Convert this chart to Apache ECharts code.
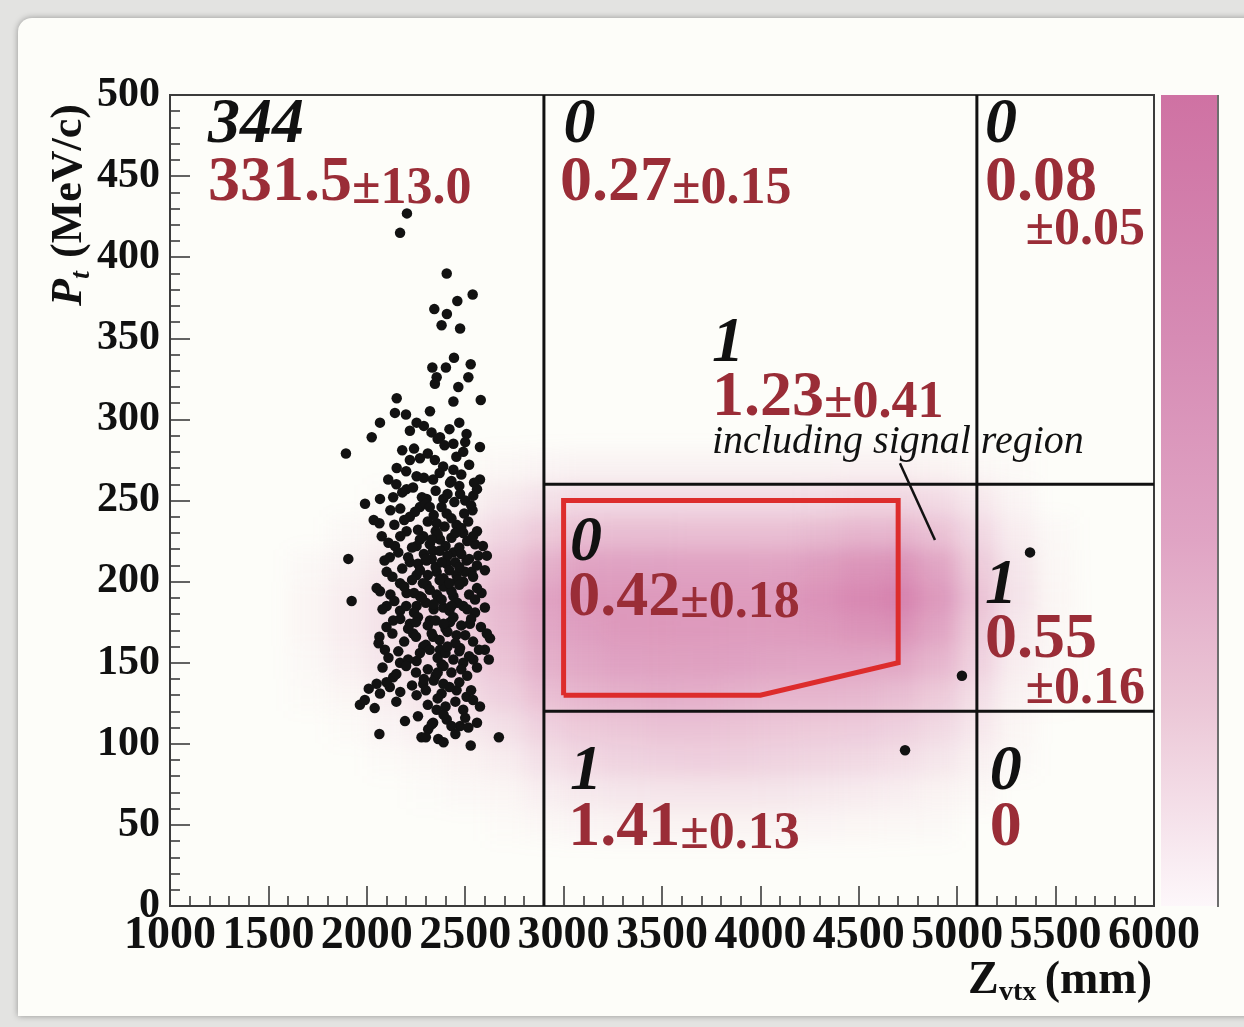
<!DOCTYPE html>
<html>
<head>
<meta charset="utf-8">
<script src="https://cdn.jsdelivr.net/npm/echarts@6/dist/echarts.min.js"></script>
<style>
  html, body { margin: 0; padding: 0; width: 1244px; height: 1027px; overflow: hidden; background: #e3e3e1; }
  #card { position: absolute; left: 18px; top: 18px; width: 1260px; height: 998px; background: #fdfdf9;
          border-radius: 14px 0 0 0; box-shadow: 0 0 6px rgba(0,0,0,0.35); }
  #heat, #main { position: absolute; left: 0; top: 0; width: 1244px; height: 1027px; }
  #heat { filter: blur(10px); }
</style>
</head>
<body>
<div id="card"></div>
<div id="heat"></div>
<div id="main"></div>
<script>
// ---- axis ranges ----
const zvtxRange = [1000, 6000];
const ptRange = [0, 500];

// ---- region boundaries (mm, MeV/c) ----
const boundaryZ = [2900, 5100];
const boundaryPt = [120, 260];

// ---- signal region outline (Zvtx, Pt) ----
const signalRegion = [[3000, 130], [3000, 250], [4700, 250], [4700, 150], [4000, 130], [3000, 130]];

// ---- observed events, upstream region ----
const upstreamEvents = [
  [2204,427],[2169,415],[2406,390],[2538,377],[2460,373],[2343,368],[2407,365],[2380,358],[2474,356],[2443,338],
  [2333,332],[2402,332],[2528,334],[2355,326],[2516,326],[2346,322],[2465,320],[2579,312],[2152,313],[2440,311],
  [2321,305],[2143,304],[2199,303],[2067,298],[2253,298],[2470,298],[2219,293],[2025,289],[2329,292],[2372,289],
  [2507,291],[2440,285],[2575,283],[1894,279],[2490,280],[2219,275],[2346,275],[2270,276],[2152,270],[2388,271],
  [2440,269],[2253,265],[2109,263],[2575,263],[2337,263],[2423,261],[2202,257],[1991,248],[2067,251],[2134,252],
  [2474,254],[2541,253],[2304,251],[2389,251],[2537,244],[2064,236],[2219,240],[2270,246],[2406,242],[2355,236],
  [2456,235],[2076,228],[2202,231],[2287,228],[2372,226],[2490,230],[2550,223],[2143,222],[2253,222],[2337,219],
  [2440,218],[1906,214],[2117,215],[2219,212],[2304,213],[2406,211],[2507,213],[2567,216],[2101,206],[2253,204],
  [2355,206],[2456,204],[2532,206],[2169,199],[2304,198],[2406,199],[2490,200],[2067,194],[1923,188],[2202,193],
  [2270,191],[2355,192],[2440,191],[2583,193],[2101,185],[2169,182],[2253,185],[2389,184],[2490,185],[2550,181],
  [2134,176],[2219,174],[2321,176],[2423,175],[2524,174],[2064,166],[2236,168],[2337,166],[2456,167],[2626,165],
  [2092,158],[2287,160],[2372,158],[2474,159],[2600,158],[2169,150],[2253,151],[2380,149],[2490,150],[2541,152],
  [2134,141],[2050,137],[2117,135],[1965,124],[2067,131],[2253,130],[2287,137],[2389,137],[2456,133],[2507,129],
  [2575,123],[2355,121],[2194,114],[2337,113],[2406,115],[2474,111],[2516,110],[2064,106],[2278,104],[2312,109],
  [2363,103],[2528,99],[2671,104],
  [2290,296],[2360,288],[2420,294],[2500,286],
  [2240,282],[2310,279],[2395,284],[2455,277],[2520,272],[2180,281],
  [2200,268],[2290,264],[2370,267],[2430,262],[2480,266],[2545,261],[2150,260],
  [2235,258],[2280,252],[2350,256],[2410,254],[2470,259],[2500,250],[2180,255],[2560,257],
  [2170,245],[2245,243],[2300,248],[2340,241],[2380,246],[2445,249],[2495,242],[2530,247],[2120,244],
  [2140,235],[2190,238],[2260,232],[2310,237],[2350,231],[2395,234],[2430,239],[2480,233],[2515,237],[2560,231],[2035,238],
  [2110,224],[2170,228],[2230,221],[2270,226],[2320,223],[2360,229],[2400,222],[2430,227],[2470,221],[2510,225],[2540,228],[2590,222],
  [2090,213],[2160,218],[2210,215],[2260,211],[2290,217],[2330,214],[2370,219],[2410,216],[2450,212],[2480,217],[2520,214],[2560,210],[2610,216],
  [2130,203],[2180,208],[2230,201],[2270,207],[2310,204],[2350,209],[2390,202],[2420,207],[2460,201],[2500,206],[2540,203],[2600,207],
  [2050,196],[2120,192],[2190,197],[2240,193],[2285,199],[2320,195],[2360,191],[2390,197],[2430,194],[2470,198],[2520,192],[2560,196],
  [2080,183],[2140,188],[2200,185],[2240,181],[2300,187],[2340,183],[2380,189],[2420,182],[2460,187],[2510,183],[2550,189],[2600,184],
  [2100,172],[2170,177],[2210,171],[2260,178],[2310,173],[2350,176],[2400,171],[2440,178],[2480,173],[2530,177],[2580,172],
  [2060,162],[2130,168],[2190,163],[2250,166],[2300,161],[2330,168],[2370,164],[2410,169],[2450,162],[2500,167],[2540,163],[2610,168],
  [2110,153],[2160,157],[2210,152],[2270,156],[2320,158],[2360,153],[2400,156],[2440,152],[2470,157],[2520,154],[2570,158],[2620,152],
  [2080,147],[2150,143],[2200,148],[2250,144],[2310,146],[2350,142],[2390,148],[2430,144],[2480,146],[2510,142],[2560,147],
  [2010,134],[2100,138],[2170,132],[2230,136],[2300,133],[2340,139],[2380,131],[2420,135],[2470,138],[2530,133],
  [1990,127],[2040,122],[2150,126],[2310,124],[2360,128],[2400,123],[2450,126],[2490,121],[2540,127],
  [2260,117],[2330,112],[2390,118],[2430,111],[2500,116],[2560,113],
  [2300,104],[2390,101],[2450,106],
  [2330,226],[2380,212],[2420,199],[2340,186],[2390,174],[2300,214],[2450,230],[2280,190],[2410,160],[2360,144],
  [2470,209],[2250,175],[2320,246],[2430,185],[2370,201],[2290,140]
];

// ---- observed events outside the upstream region ----
const otherEvents = [[5370, 218], [5024, 142], [4735, 96]];

// ---- MC signal density (arbitrary units, 0-10) ----
const densityZ = [1700,1900,2100,2300,2500,2700,2900,3100,3300,3500,3700,3900,4100,4300,4500,4700,4900,5100,5300,5500];
const densityPt = [270, 250, 230, 210, 190, 170, 150, 130, 110, 90, 70, 50];
const densityLevels = [
  [0,0,0,0,0.2,0.4,0.6,0.8,0.8,0.8,0.8,0.8,0.8,0.8,0.9,0.9,0.7,0.4,0.2,0],
  [0,0,0.2,0.4,0.8,1.4,2,2.4,2.4,2.4,2.4,2.4,2.4,2.5,2.8,2.8,2.4,1.5,0.6,0],
  [0,0.3,0.7,1.1,1.7,2.6,3.6,4.4,4.5,4.5,4.4,4.4,4.4,4.7,5.0,5.0,4.2,2.6,1.1,0.3],
  [0.3,0.8,1.4,2,2.8,4,5.4,6.3,6.4,6.4,6.3,6.3,6.3,6.8,7.4,7.6,6.2,3.6,1.6,0.4],
  [0.5,1.1,1.9,2.7,3.5,4.9,6.3,7,7.1,7,6.9,6.9,7,7.5,8.2,8.6,7,4.2,1.8,0.5],
  [0.5,1.1,1.9,2.7,3.4,4.6,6,6.6,7,7.1,7,6.9,6.9,7,7.4,7.6,6.2,3.6,1.4,0.4],
  [0.3,0.9,1.6,2.3,3,4,5.4,6,6.4,6.5,6.5,6.4,6.2,6.1,6.1,6,5,3,1.1,0.3],
  [0.2,0.5,1.1,1.7,2.4,3.1,4.4,5,5.4,5.6,5.5,5.2,5,5,4.9,4.5,3.6,2.1,0.8,0.2],
  [0,0.2,0.6,1,1.4,2,3,3.6,3.9,4.1,4.1,4,3.8,3.6,3.5,3.1,2.5,1.5,0.5,0],
  [0,0,0.2,0.4,0.7,1.1,2,2.6,2.9,3.1,3.2,3.1,2.9,2.7,2.5,2.1,1.6,0.9,0.3,0],
  [0,0,0,0.1,0.3,0.5,1,1.4,1.6,1.7,1.7,1.7,1.6,1.4,1.2,1,0.7,0.4,0,0],
  [0,0,0,0,0,0.2,0.4,0.6,0.7,0.7,0.7,0.7,0.7,0.6,0.5,0.4,0.3,0,0,0]
];
const densityCell = [200, 20];

// ---- per-region counts: observed / expected background ± error ----
// order: upstream, top-middle, top-right, middle (incl. signal region), signal box, right-middle, bottom-middle, bottom-right
const regionObserved = [344, 0, 0, 1, 0, 1, 1, 0];
const regionExpected = ['331.5', '0.27', '0.08', '1.23', '0.42', '0.55', '1.41', '0'];
const regionError = ['13.0', '0.15', '0.05', '0.41', '0.18', '0.16', '0.13', ''];

// label anchors (data coordinates); errAt set when the error goes on its own line
const regionLabelLayout = [
  { obsAt: [1193, 481.5], expAt: [1193, 445.7] },
  { obsAt: [3000, 481.5], expAt: [2982, 445.7] },
  { obsAt: [5141, 481.5], expAt: [5141, 445.7], errAt: [5954, 416.2] },
  { obsAt: [3754, 346.5], expAt: [3754, 313.2], noteAt: [3754, 285.5] },
  { obsAt: [3033, 223.8], expAt: [3023, 189.9] },
  { obsAt: [5141, 197.3], expAt: [5141, 164.0], errAt: [5954, 133.2] },
  { obsAt: [3033, 82.6], expAt: [3023, 47.5] },
  { obsAt: [5166, 82.6], expAt: [5166, 47.5] }
];
const regionNote = 'including signal region';
const notePointer = [[4709, 273], [4887, 225.6]];

const SERIF = '"Liberation Serif", "DejaVu Serif", serif';
const gridBox = { left: 170, right: 90, top: 95, bottom: 121, outerBoundsMode: 'none' };

// ---------------- density layer (blurred underneath) ----------------
const heatCells = [];
densityPt.forEach((pt, r) => densityZ.forEach((z, c) => {
  const v = densityLevels[r][c];
  if (v > 0) heatCells.push([z, pt, v]);
}));

const heat = echarts.init(document.getElementById('heat'));
heat.setOption({
  animation: false,
  grid: gridBox,
  xAxis: { type: 'value', min: zvtxRange[0], max: zvtxRange[1], show: false },
  yAxis: { type: 'value', min: ptRange[0], max: ptRange[1], show: false },
  series: [{
    type: 'custom',
    silent: true,
    clip: false,
    data: heatCells,
    renderItem(params, api) {
      const z = api.value(0), pt = api.value(1), v = api.value(2);
      const a = api.coord([z - densityCell[0] / 2, pt + densityCell[1] / 2]);
      const b = api.coord([z + densityCell[0] / 2, pt - densityCell[1] / 2]);
      return {
        type: 'rect',
        shape: { x: a[0], y: a[1], width: b[0] - a[0], height: b[1] - a[1] },
        style: { fill: 'rgba(207,110,162,' + (v / 10).toFixed(3) + ')' }
      };
    }
  }]
});

// ---------------- annotation items ----------------
const annotations = [];
regionLabelLayout.forEach((lay, i) => {
  annotations.push({ at: lay.obsAt, text: '{obs|' + regionObserved[i] + '}', align: 'left' });
  const err = regionError[i];
  if (lay.errAt) {
    annotations.push({ at: lay.expAt, text: '{exp|' + regionExpected[i] + '}', align: 'left' });
    annotations.push({ at: lay.errAt, text: '{err|±' + err + '}', align: 'right' });
  } else {
    annotations.push({ at: lay.expAt, text: '{exp|' + regionExpected[i] + '}' + (err ? '{err|±' + err + '}' : ''), align: 'left' });
  }
  if (lay.noteAt) annotations.push({ at: lay.noteAt, text: '{note|' + regionNote + '}', align: 'left' });
});

const RED = '#9a2d37';
const richStyles = {
  obs: { fontFamily: SERIF, fontWeight: 'bold', fontStyle: 'italic', fontSize: 64, fill: '#111', verticalAlign: 'bottom' },
  exp: { fontFamily: SERIF, fontWeight: 'bold', fontSize: 64, fill: RED, verticalAlign: 'bottom' },
  err: { fontFamily: SERIF, fontWeight: 'bold', fontSize: 52, fill: RED, verticalAlign: 'bottom' },
  note: { fontFamily: SERIF, fontStyle: 'italic', fontSize: 40, fill: '#111', verticalAlign: 'bottom' }
};

function segmentSeries(points, color, width) {
  return {
    type: 'line', data: points, symbol: 'none', silent: true, clip: false,
    lineStyle: { color: color, width: width, cap: 'butt', join: 'miter' }, z: 3
  };
}

const segments = [];
boundaryZ.forEach(z => segments.push([[z, ptRange[0]], [z, ptRange[1]]]));
boundaryPt.forEach(pt => segments.push([[boundaryZ[0], pt], [zvtxRange[1], pt]]));

const axisFont = { fontFamily: SERIF, fontWeight: 'bold', color: '#111', formatter: v => String(v) };
const tickStyle = { color: '#3c3c3c', width: 1.6 };

const chart = echarts.init(document.getElementById('main'));
chart.setOption({
  animation: false,
  backgroundColor: 'transparent',
  grid: Object.assign({ show: true, borderColor: '#3c3c3c', borderWidth: 2, backgroundColor: 'transparent' }, gridBox),
  xAxis: {
    type: 'value', min: zvtxRange[0], max: zvtxRange[1], interval: 500,
    axisLine: { show: false },
    splitLine: { show: false },
    axisTick: { show: true, inside: true, length: 20, lineStyle: tickStyle },
    minorTick: { show: true, splitNumber: 5, length: 10, lineStyle: tickStyle },
    axisLabel: Object.assign({ margin: 7, fontSize: 46, showMinLabel: true, showMaxLabel: true }, axisFont)
  },
  yAxis: {
    type: 'value', min: ptRange[0], max: ptRange[1], interval: 50,
    axisLine: { show: false },
    splitLine: { show: false },
    axisTick: { show: true, inside: true, length: 20, lineStyle: tickStyle },
    minorTick: { show: true, splitNumber: 5, length: 10, lineStyle: tickStyle },
    axisLabel: Object.assign({ margin: 10, fontSize: 42, showMinLabel: true, showMaxLabel: true }, axisFont)
  },
  graphic: [
    // colour scale bar
    {
      type: 'rect', silent: true,
      shape: { x: 1161, y: 95, width: 56, height: 811 },
      style: {
        fill: new echarts.graphic.LinearGradient(0, 0, 0, 1, [
          { offset: 0, color: '#cf72a3' },
          { offset: 0.3, color: '#d68bb4' },
          { offset: 0.55, color: '#e0a4c4' },
          { offset: 0.75, color: '#ebc6d6' },
          { offset: 1, color: '#fdf7fa' }
        ])
      }
    },
    { type: 'line', silent: true, shape: { x1: 1218, y1: 95, x2: 1218, y2: 907 }, style: { stroke: '#6e6e6e', lineWidth: 2 } },
    // y axis title
    {
      type: 'group', x: 70, y: 306, rotation: Math.PI / 2, silent: true,
      children: [
        { type: 'text', x: 0, y: 0, style: { text: 'P', font: 'italic bold 44px ' + SERIF, fill: '#111', verticalAlign: 'middle' } },
        { type: 'text', x: 27, y: 12, style: { text: 't', font: 'italic bold 28px ' + SERIF, fill: '#111', verticalAlign: 'middle' } },
        { type: 'text', x: 48, y: 0, style: { text: '(MeV/c)', font: 'bold 44px ' + SERIF, fill: '#111', verticalAlign: 'middle' } }
      ]
    },
    // x axis title
    { type: 'text', x: 968, y: 981, silent: true, style: { text: 'Z', font: 'bold 46px ' + SERIF, fill: '#111', verticalAlign: 'middle' } },
    { type: 'text', x: 999, y: 993, silent: true, style: { text: 'vtx', font: 'bold 28px ' + SERIF, fill: '#111', verticalAlign: 'middle' } },
    { type: 'text', x: 1152, y: 981, silent: true, style: { text: '(mm)', font: 'bold 46px ' + SERIF, fill: '#111', verticalAlign: 'middle', align: 'right' } }
  ],
  series: [
    {
      type: 'scatter', data: upstreamEvents.concat(otherEvents),
      symbol: 'circle', symbolSize: 10.5, silent: true, z: 2,
      itemStyle: { color: '#121212', opacity: 1 }
    },
    ...segments.map(s => segmentSeries(s, '#111', 3)),
    segmentSeries(signalRegion, '#dd2c2c', 5),
    segmentSeries(notePointer, '#111', 2.5),
    {
      type: 'custom', silent: true, clip: false, z: 5,
      data: annotations.map(a => a.at),
      renderItem(params, api) {
        const a = annotations[params.dataIndex];
        const p = api.coord(a.at);
        return {
          type: 'text', x: p[0], y: p[1],
          style: { text: a.text, rich: richStyles, align: a.align, verticalAlign: 'middle' }
        };
      }
    }
  ]
});
</script>
</body>
</html>
